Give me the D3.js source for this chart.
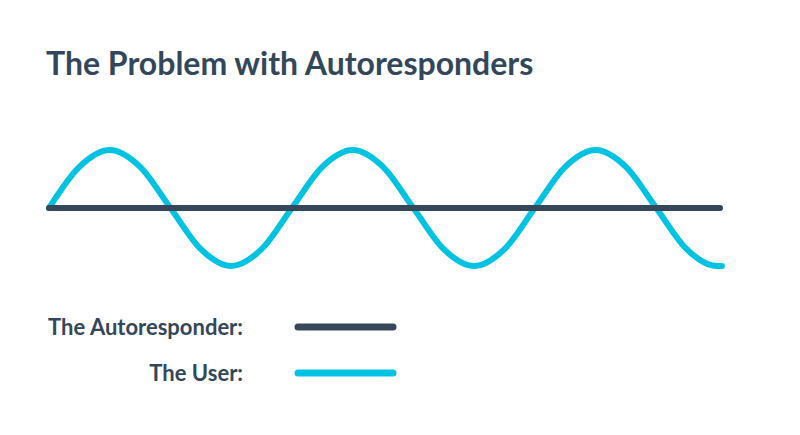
<!DOCTYPE html>
<meta charset="utf-8">
<style>
    body { margin: 0; background: #fff; }
    .title { font: bold 32px Lato, sans-serif; fill: #33475b; }
    .legend text { font: bold 22px Lato, sans-serif; fill: #33475b; }
</style>
<body>
<script src="https://d3js.org/d3.v7.min.js"></script>
<script>
    // eighth-period steps and wave values
    var steps = [0, 0.5, 1, 1.5, 2, 2.5, 3, 3.5, 4, 4.5, 5, 5.5, 6, 6.5, 7, 7.5,
                 8, 8.5, 9, 9.5, 10, 10.5, 11, 11.08];
    var userValues = [0, 0.71, 1, 0.71, 0, -0.71, -1, -0.71, 0, 0.71, 1, 0.71, 0, -0.71, -1, -0.71,
                      0, 0.71, 1, 0.71, 0, -0.71, -1, -1];
    var autoSteps = [0, 11.05];
    var autoValues = [0, 0];
    var series = ["The Autoresponder:", "The User:"];
    var colors = ["#36475a", "#00c2e3"];

    var width = 800, height = 435;

    var svg = d3.select("body").append("svg")
        .attr("width", width)
        .attr("height", height);

    svg.append("text")
        .attr("class", "title")
        .attr("x", 46)
        .attr("y", 75)
        .text("The Problem with Autoresponders");

    var x = d3.scaleLinear().domain([0, 11]).range([49, 717]);
    var y = d3.scaleLinear().domain([-1, 1]).range([266, 150]);

    var line = d3.line()
        .x(d => x(d[0]))
        .y(d => y(d[1]))
        .curve(d3.curveMonotoneX);

    var userData = steps.map((s, i) => [s, userValues[i]]);
    var autoData = autoSteps.map((s, i) => [s, autoValues[i]]);

    svg.append("path")
        .attr("d", line(userData))
        .attr("fill", "none")
        .attr("stroke", colors[1])
        .attr("stroke-width", 6)
        .attr("stroke-linecap", "round");

    svg.append("path")
        .attr("d", line(autoData))
        .attr("fill", "none")
        .attr("stroke", colors[0])
        .attr("stroke-width", 6)
        .attr("stroke-linecap", "round");

    var legend = svg.selectAll(".legend")
        .data(series)
        .enter().append("g")
        .attr("class", "legend")
        .attr("transform", (d, i) => "translate(0," + (327 + i * 46) + ")");

    legend.append("text")
        .attr("x", 243)
        .attr("dy", "0.35em")
        .style("text-anchor", "end")
        .text(d => d);

    legend.append("line")
        .attr("x1", 298)
        .attr("x2", 393)
        .attr("stroke", (d, i) => colors[i])
        .attr("stroke-width", 7)
        .attr("stroke-linecap", "round");
</script>
</body>
